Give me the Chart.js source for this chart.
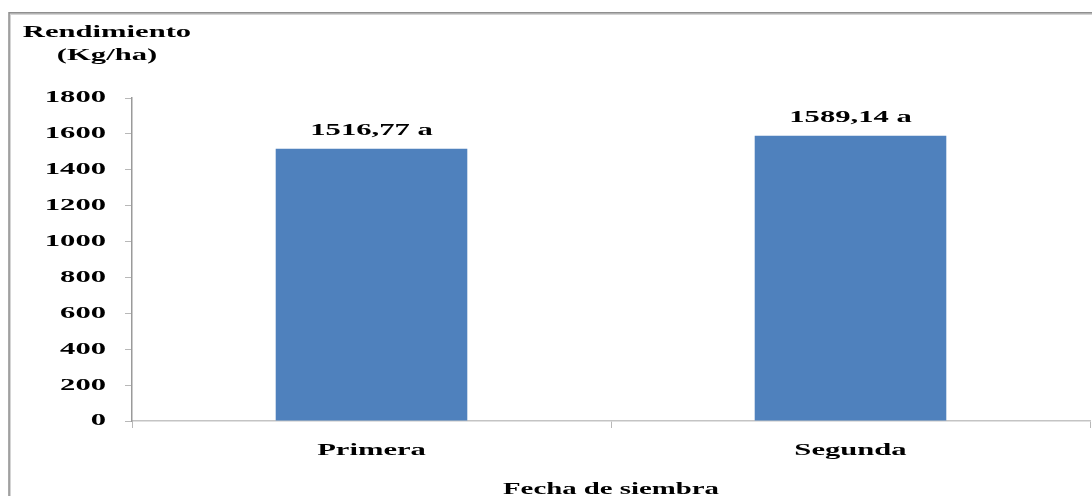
<!DOCTYPE html>
<html lang="es">
<head>
<meta charset="utf-8">
<title>Rendimiento por fecha de siembra</title>
<script src="https://cdn.jsdelivr.net/npm/chart.js@4"></script>
<style>
  html, body { margin: 0; padding: 0; background: #ffffff; }
  canvas { display: block; }
</style>
</head>
<body>
<canvas id="grafico" width="1092" height="496"></canvas>
<script>
// Datos del gráfico
const categorias = ['Primera', 'Segunda'];
const rendimiento = [1516.77, 1589.14];
const letrasSignificancia = ['a', 'a'];
const ticksY = [0, 200, 400, 600, 800, 1000, 1200, 1400, 1600, 1800];
const tituloY = ['Rendimiento', '(Kg/ha)'];
const tituloX = 'Fecha de siembra';

const FUENTE = '"Liberation Serif", "Times New Roman", serif';
const ESTIRADO = 1.8; // ancho horizontal de la tipografía

const canvas = document.getElementById('grafico');
const ctx = canvas.getContext('2d');

// Texto ensanchado horizontalmente: se dibuja y se mide con la misma escala
const fillTextBase = ctx.fillText.bind(ctx);
const measureTextBase = ctx.measureText.bind(ctx);
ctx.fillText = function (texto, x, y) {
  this.save();
  this.translate(x, y);
  this.scale(ESTIRADO, 1);
  fillTextBase(texto, 0, 0);
  this.restore();
};
ctx.measureText = function (texto) {
  const m = measureTextBase(texto);
  return {
    width: m.width * ESTIRADO,
    actualBoundingBoxAscent: m.actualBoundingBoxAscent,
    actualBoundingBoxDescent: m.actualBoundingBoxDescent,
    actualBoundingBoxLeft: m.actualBoundingBoxLeft * ESTIRADO,
    actualBoundingBoxRight: m.actualBoundingBoxRight * ESTIRADO,
    fontBoundingBoxAscent: m.fontBoundingBoxAscent,
    fontBoundingBoxDescent: m.fontBoundingBoxDescent
  };
};

const formatoValor = (v, i) => v.toFixed(2).replace('.', ',') + ' ' + letrasSignificancia[i];

// Marco exterior, título del eje Y y etiquetas de valor
const decoraciones = {
  id: 'decoraciones',
  beforeDraw(chart) {
    const c = chart.ctx;
    c.save();
    c.fillStyle = '#ffffff';
    c.fillRect(0, 0, chart.width, chart.height);
    c.strokeStyle = '#d4d4d4';
    c.lineWidth = 2;
    c.strokeRect(10, 14, 1200, 700);
    c.strokeStyle = '#8f8f8f';
    c.lineWidth = 1.5;
    c.strokeRect(9, 12.75, 1200, 700);
    c.restore();
  },
  afterDatasetsDraw(chart) {
    const c = chart.ctx;
    c.save();
    c.fillStyle = '#000000';
    c.font = 'bold 17px ' + FUENTE;
    c.textAlign = 'center';
    c.textBaseline = 'middle';
    chart.getDatasetMeta(0).data.forEach((barra, i) => {
      c.fillText(formatoValor(rendimiento[i], i), barra.x, barra.y - 18);
    });
    c.restore();
  },
  afterDraw(chart) {
    const c = chart.ctx;
    c.save();
    c.fillStyle = '#000000';
    c.font = 'bold 17px ' + FUENTE;
    c.textAlign = 'center';
    c.textBaseline = 'middle';
    c.fillText(tituloY[0], 107, 33);
    c.fillText(tituloY[1], 107, 56);
    c.restore();
  }
};

new Chart(ctx, {
  type: 'bar',
  data: {
    labels: categorias,
    datasets: [{
      data: rendimiento,
      backgroundColor: '#4F81BD',
      borderWidth: 0,
      barPercentage: 0.4,
      categoryPercentage: 1.0
    }]
  },
  options: {
    responsive: false,
    animation: false,
    devicePixelRatio: 1,
    layout: { padding: { top: 98, left: 10, right: 2, bottom: 0 } },
    plugins: {
      legend: { display: false },
      tooltip: { enabled: false }
    },
    scales: {
      x: {
        grid: {
          offset: true,
          drawOnChartArea: false,
          drawTicks: true,
          tickLength: 7,
          color: '#b8b8b8'
        },
        border: { color: '#c4c4c4', width: 1.5 },
        ticks: {
          color: '#000000',
          padding: 12,
          font: { family: FUENTE, size: 17, weight: 'bold' }
        },
        title: {
          display: true,
          text: tituloX,
          color: '#000000',
          padding: { top: 0, bottom: -3 },
          font: { family: FUENTE, size: 16, weight: 'bold' }
        },
        afterFit(scale) { scale.height = 75; }
      },
      y: {
        min: 0,
        max: 1800,
        afterBuildTicks(scale) { scale.ticks = ticksY.map(v => ({ value: v })); },
        grid: {
          drawOnChartArea: false,
          drawTicks: true,
          tickLength: 7,
          color: '#b8b8b8'
        },
        border: { color: '#9a9a9a', width: 1.5 },
        ticks: {
          color: '#000000',
          padding: 19,
          callback: (v) => String(v),
          font: { family: FUENTE, size: 17, weight: 'bold' }
        },
        afterFit(scale) { scale.width = 122; }
      }
    }
  },
  plugins: [decoraciones]
});
</script>
</body>
</html>
